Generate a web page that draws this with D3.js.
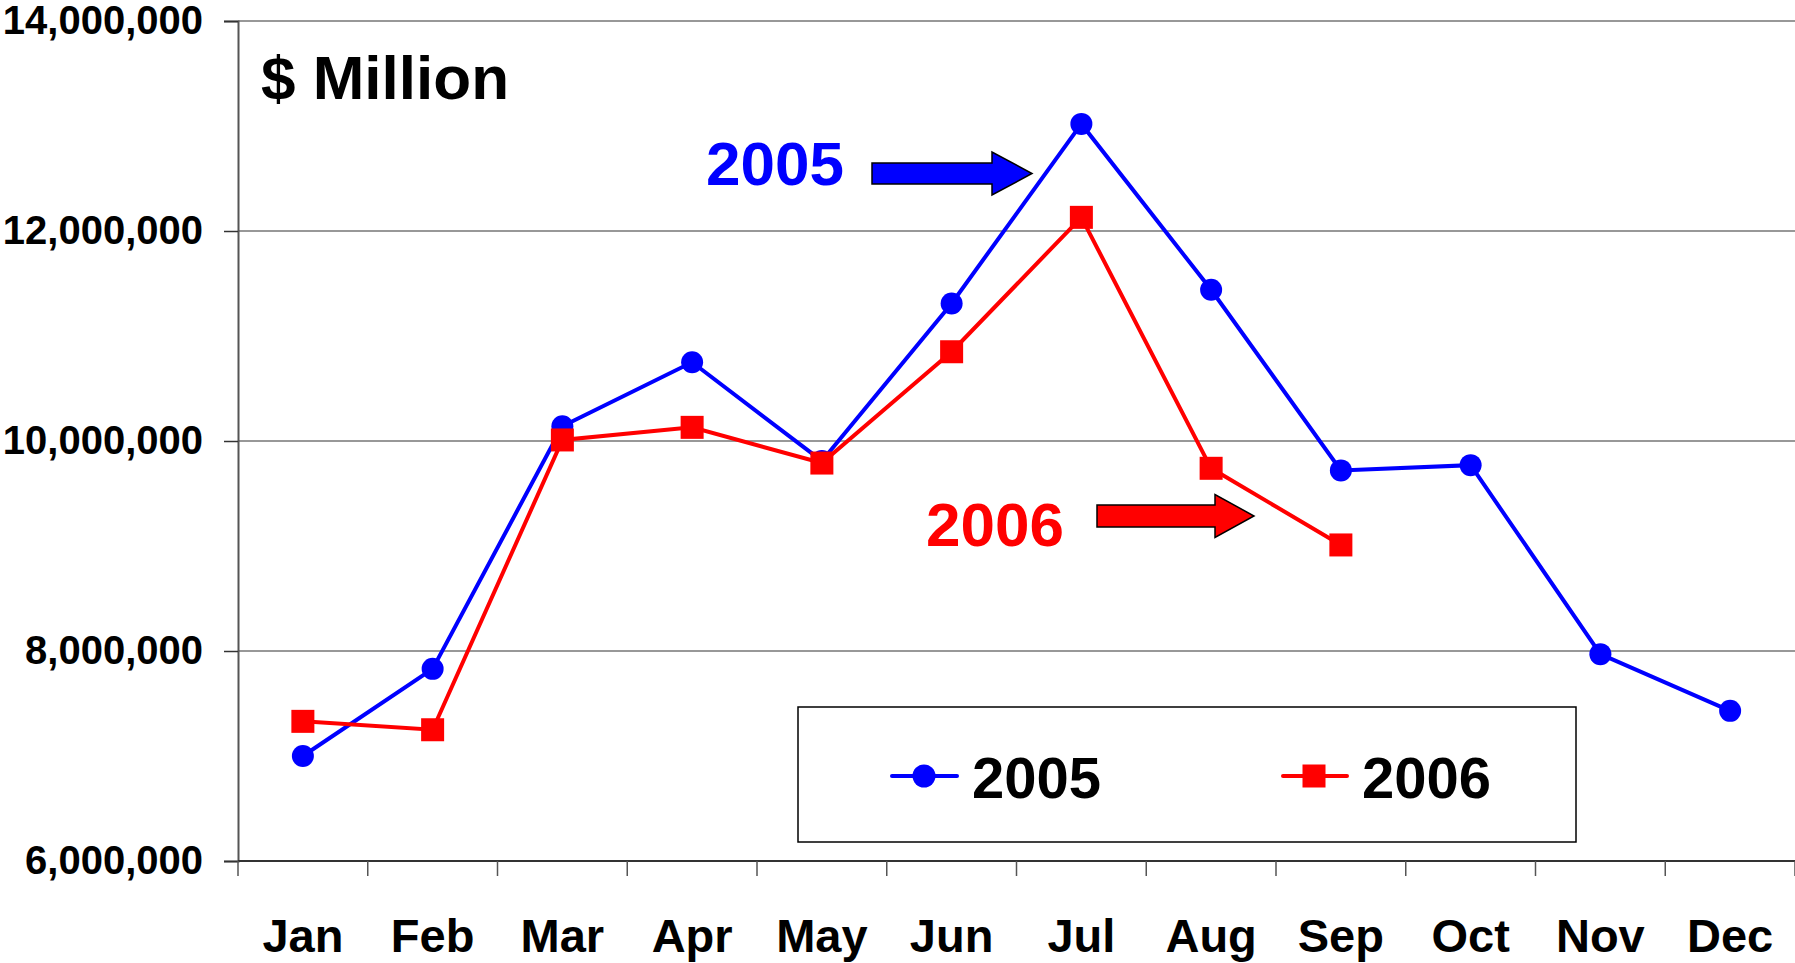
<html>
<head>
<meta charset="utf-8">
<script src="https://d3js.org/d3.v7.min.js"></script>
<style>
  body { margin: 0; background: #fff; }
  text { font-family: "Liberation Sans", Arial, sans-serif; font-weight: bold; }
</style>
</head>
<body>
<svg class="chart" width="1795" height="963"></svg>
<script>

const months = ["Jan", "Feb", "Mar", "Apr", "May", "Jun", "Jul", "Aug", "Sep", "Oct", "Nov", "Dec"];
const sales2005 = [7000000, 7830000, 10140000, 10750000, 9810000, 11310000, 13020000, 11440000, 9720000, 9770000, 7970000, 7430000];
const sales2006 = [7330000, 7250000, 10010000, 10130000, 9790000, 10850000, 12130000, 9740000, 9010000];
const yTicks = [6000000, 8000000, 10000000, 12000000, 14000000];

const svg = d3.select(".chart");

const plotLeft = 238, plotRight = 1795, plotTop = 21, plotBottom = 861;

const x = d3.scaleBand()
    .domain(months)
    .range([plotLeft, plotRight])
    .padding(0);

const y = d3.scaleLinear()
    .domain([6000000, 14000000])
    .range([plotBottom, plotTop]);

const cx = m => x(m) + x.bandwidth() / 2;

// gridlines
svg.append("g")
  .selectAll("line")
  .data(yTicks.slice(1))
  .enter().append("line")
    .attr("x1", plotLeft).attr("x2", plotRight)
    .attr("y1", d => y(d)).attr("y2", d => y(d))
    .attr("stroke", "#333")
    .attr("stroke-width", 1.2);

// y axis
const yAxis = svg.append("g")
    .attr("transform", `translate(${plotLeft},0)`)
    .call(d3.axisLeft(y).tickValues(yTicks).tickFormat(d3.format(",")).tickSize(14).tickPadding(21));
yAxis.select(".domain").attr("stroke", "#555").attr("stroke-width", 2);
yAxis.selectAll(".tick line").attr("stroke", "#333").attr("stroke-width", 1.5);
yAxis.selectAll(".tick text")
    .attr("font-size", 40)
    .attr("fill", "#000")
    .attr("font-family", "Liberation Sans, Arial, sans-serif")
    .attr("font-weight", "bold");

// x axis line + boundary ticks
svg.append("line")
    .attr("x1", plotLeft).attr("x2", plotRight)
    .attr("y1", plotBottom).attr("y2", plotBottom)
    .attr("stroke", "#333").attr("stroke-width", 2);

svg.append("g")
  .selectAll("line")
  .data(d3.range(months.length + 1))
  .enter().append("line")
    .attr("x1", i => plotLeft + i * x.step())
    .attr("x2", i => plotLeft + i * x.step())
    .attr("y1", plotBottom).attr("y2", plotBottom + 15)
    .attr("stroke", "#555").attr("stroke-width", 1.5);

svg.append("g")
  .selectAll("text")
  .data(months)
  .enter().append("text")
    .attr("x", d => cx(d))
    .attr("y", 952)
    .attr("text-anchor", "middle")
    .attr("font-size", 47)
    .text(d => d);

// lines
const line = d3.line()
    .x((d, i) => cx(months[i]))
    .y(d => y(d));

svg.append("path")
    .datum(sales2005)
    .attr("d", line)
    .attr("fill", "none")
    .attr("stroke", "#0000ff")
    .attr("stroke-width", 4);

svg.append("path")
    .datum(sales2006)
    .attr("d", line)
    .attr("fill", "none")
    .attr("stroke", "#ff0000")
    .attr("stroke-width", 4);

svg.append("g")
  .selectAll("circle")
  .data(sales2005)
  .enter().append("circle")
    .attr("cx", (d, i) => cx(months[i]))
    .attr("cy", d => y(d))
    .attr("r", 11)
    .attr("fill", "#0000ff");

svg.append("g")
  .selectAll("rect")
  .data(sales2006)
  .enter().append("rect")
    .attr("x", (d, i) => cx(months[i]) - 11.5)
    .attr("y", d => y(d) - 11.5)
    .attr("width", 23).attr("height", 23)
    .attr("fill", "#ff0000");

// title
svg.append("text")
    .attr("x", 261).attr("y", 99)
    .attr("font-size", 62)
    .text("$ Million");

// annotation arrows
function arrow(x0, yc, bodyEnd, tip, bodyH, headH) {
  return [
    [x0, yc - bodyH / 2], [bodyEnd, yc - bodyH / 2], [bodyEnd, yc - headH / 2],
    [tip, yc], [bodyEnd, yc + headH / 2], [bodyEnd, yc + bodyH / 2], [x0, yc + bodyH / 2]
  ].map(p => p.join(",")).join(" ");
}

svg.append("text")
    .attr("x", 706).attr("y", 185)
    .attr("font-size", 62)
    .attr("fill", "#0000ff")
    .text("2005");
svg.append("polygon")
    .attr("points", arrow(872, 173.5, 992, 1032, 21, 43))
    .attr("fill", "#0000ff").attr("stroke", "#000").attr("stroke-width", 1.5);

svg.append("text")
    .attr("x", 926).attr("y", 546)
    .attr("font-size", 62)
    .attr("fill", "#ff0000")
    .text("2006");
svg.append("polygon")
    .attr("points", arrow(1097, 516, 1215, 1254, 22, 43))
    .attr("fill", "#ff0000").attr("stroke", "#000").attr("stroke-width", 1.5);

// legend
const legend = svg.append("g");
legend.append("rect")
    .attr("x", 798).attr("y", 707)
    .attr("width", 778).attr("height", 135)
    .attr("fill", "#fff").attr("stroke", "#000").attr("stroke-width", 1.5);

legend.append("line")
    .attr("x1", 892).attr("x2", 957).attr("y1", 776).attr("y2", 776)
    .attr("stroke", "#0000ff").attr("stroke-width", 4).attr("stroke-linecap", "round");
legend.append("circle")
    .attr("cx", 924).attr("cy", 776).attr("r", 11.5)
    .attr("fill", "#0000ff");
legend.append("text")
    .attr("x", 972).attr("y", 798)
    .attr("font-size", 58)
    .text("2005");

legend.append("line")
    .attr("x1", 1283).attr("x2", 1347).attr("y1", 776).attr("y2", 776)
    .attr("stroke", "#ff0000").attr("stroke-width", 4).attr("stroke-linecap", "round");
legend.append("rect")
    .attr("x", 1302.5).attr("y", 764.5)
    .attr("width", 23).attr("height", 23)
    .attr("fill", "#ff0000");
legend.append("text")
    .attr("x", 1362).attr("y", 798)
    .attr("font-size", 58)
    .text("2006");

</script>
</body>
</html>
